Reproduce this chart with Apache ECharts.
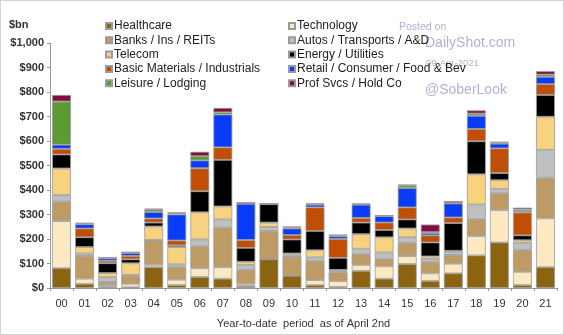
<!DOCTYPE html>
<html><head><meta charset="utf-8">
<script src="https://cdn.jsdelivr.net/npm/echarts@6/dist/echarts.min.js"></script>
<style>html,body{margin:0;padding:0;background:#fff}#c{width:564px;height:335px;box-sizing:border-box;border:1px solid #d4d4d4}</style>
</head><body><div id="c"></div>
<script>
const categories = ['00','01','02','03','04','05','06','07','08','09','10','11','12','13','14','15','16','17','18','19','20','21'];
const healthcare   = [81,17,4,3,85,12,45,38,8,117,50,12,4,70,38,98,29,60,133,186,12,85];
const technology   = [192,21,8,14,10,22,36,47,9,0,2,20,24,24,50,32,31,39,79,132,54,199];
const banks        = [80,93,13,33,99,51,89,162,57,116,75,78,36,44,30,54,46,36,69,69,89,166];
const autos        = [26,10,19,4,2,12,28,33,20,16,6,15,4,22,27,23,13,14,60,18,29,114];
const telecom      = [109,26,17,47,55,70,111,53,13,18,8,29,6,60,62,36,10,3,123,35,11,135];
const energy       = [57,40,40,16,16,7,86,190,57,75,57,79,49,47,30,37,57,113,135,29,20,89];
const basicMat     = [23,36,10,14,17,20,94,51,32,0,18,96,77,19,30,49,29,23,50,101,93,44];
const retail       = [17,17,10,12,26,106,32,134,148,0,27,11,11,54,26,79,9,57,54,19,6,30];
const leisure      = [176,3,2,2,10,5,17,9,0,0,4,3,3,2,2,11,4,2,9,4,7,9];
const profSvcs     = [27,3,3,2,4,4,18,18,6,4,4,3,4,3,2,3,31,8,13,4,7,14];
const yTicks = [0,100,200,300,400,500,600,700,800,900,1000];

const seriesDefs = [
  ['Healthcare', healthcare, '#8C6410'],
  ['Technology', technology, '#FCE9C2'],
  ['Banks / Ins / REITs', banks, '#BE9B65'],
  ['Autos / Transports / A&D', autos, '#C0C0C0'],
  ['Telecom', telecom, '#F8D27F'],
  ['Energy / Utilities', energy, '#000000'],
  ['Basic Materials / Industrials', basicMat, '#C04E04'],
  ['Retail / Consumer / Food & Bev', retail, '#0A3CF8'],
  ['Leisure / Lodging', leisure, '#5C9B32'],
  ['Prof Svcs / Hold Co', profSvcs, '#800E40']
];
const chart = echarts.init(document.getElementById('c'));
const legendCommon = {
  orient:'vertical', itemWidth:6, itemHeight:6, itemGap:0.3, icon:'rect',
  textStyle:{fontFamily:'Liberation Sans, Arial', fontSize:12, color:'#222', lineHeight:14, padding:[0,0,0,-3]},
  selectedMode:false, padding:0
};
const wm = 'rgba(150,150,200,0.75)';
chart.setOption({
  animation:false,
  textStyle:{fontFamily:'Liberation Sans, Arial'},
  legend:[
    Object.assign({left:104, top:18, data:['Healthcare','Banks / Ins / REITs','Telecom','Basic Materials / Industrials','Leisure / Lodging']}, legendCommon),
    Object.assign({left:287, top:18, data:['Technology','Autos / Transports / A&D','Energy / Utilities','Retail / Consumer / Food & Bev','Prof Svcs / Hold Co']}, legendCommon)
  ],
  grid:{left:49, right:6, top:42, bottom:41, containLabel:false},
  xAxis:{
    type:'category', data:categories,
    axisLine:{lineStyle:{color:'#999'}},
    axisTick:{show:true, length:3, lineStyle:{color:'#999'}},
    axisLabel:{color:'#333', fontSize:11, margin:10},
    name:'Year-to-date  period  as of April 2nd', nameLocation:'middle', nameGap:30,
    nameTextStyle:{color:'#333', fontSize:11}
  },
  yAxis:{
    type:'value', min:0, max:1000, interval:100,
    axisLine:{show:true, lineStyle:{color:'#999'}},
    axisTick:{show:true, length:3, lineStyle:{color:'#999'}},
    splitLine:{show:false},
    axisLabel:{color:'#333', fontSize:11, fontWeight:'bold', margin:6,
      formatter:v=>'$'+v.toLocaleString('en-US')},
    customValues: yTicks
  },
  graphic:[
    {type:'text', left:8, top:18, style:{text:'$bn', fontSize:11, fontWeight:'bold', fill:'#333', fontFamily:'Liberation Sans, Arial'}},
    {type:'text', left:398, top:21, style:{text:'Posted on', fontSize:10.5, fill:wm, fontFamily:'Liberation Sans, Arial'}},
    {type:'text', left:424, top:35, style:{text:'DailyShot.com', fontSize:14, fill:wm, fontFamily:'Liberation Sans, Arial'}},
    {type:'text', left:425, top:57, style:{text:'09-Apr-2021', fontSize:9.5, fill:wm, fontFamily:'Liberation Sans, Arial'}},
    {type:'text', left:424, top:82, style:{text:'@SoberLook', fontSize:14, fill:wm, fontFamily:'Liberation Sans, Arial'}}
  ],
  series: seriesDefs.map(([name, data, color]) => ({
    name, type:'bar', stack:'total', data, barCategoryGap:'18%',
    itemStyle:{color, borderColor:'#9a9a9a', borderWidth:0.8},
    emphasis:{disabled:true}
  }))
});
</script></body></html>
